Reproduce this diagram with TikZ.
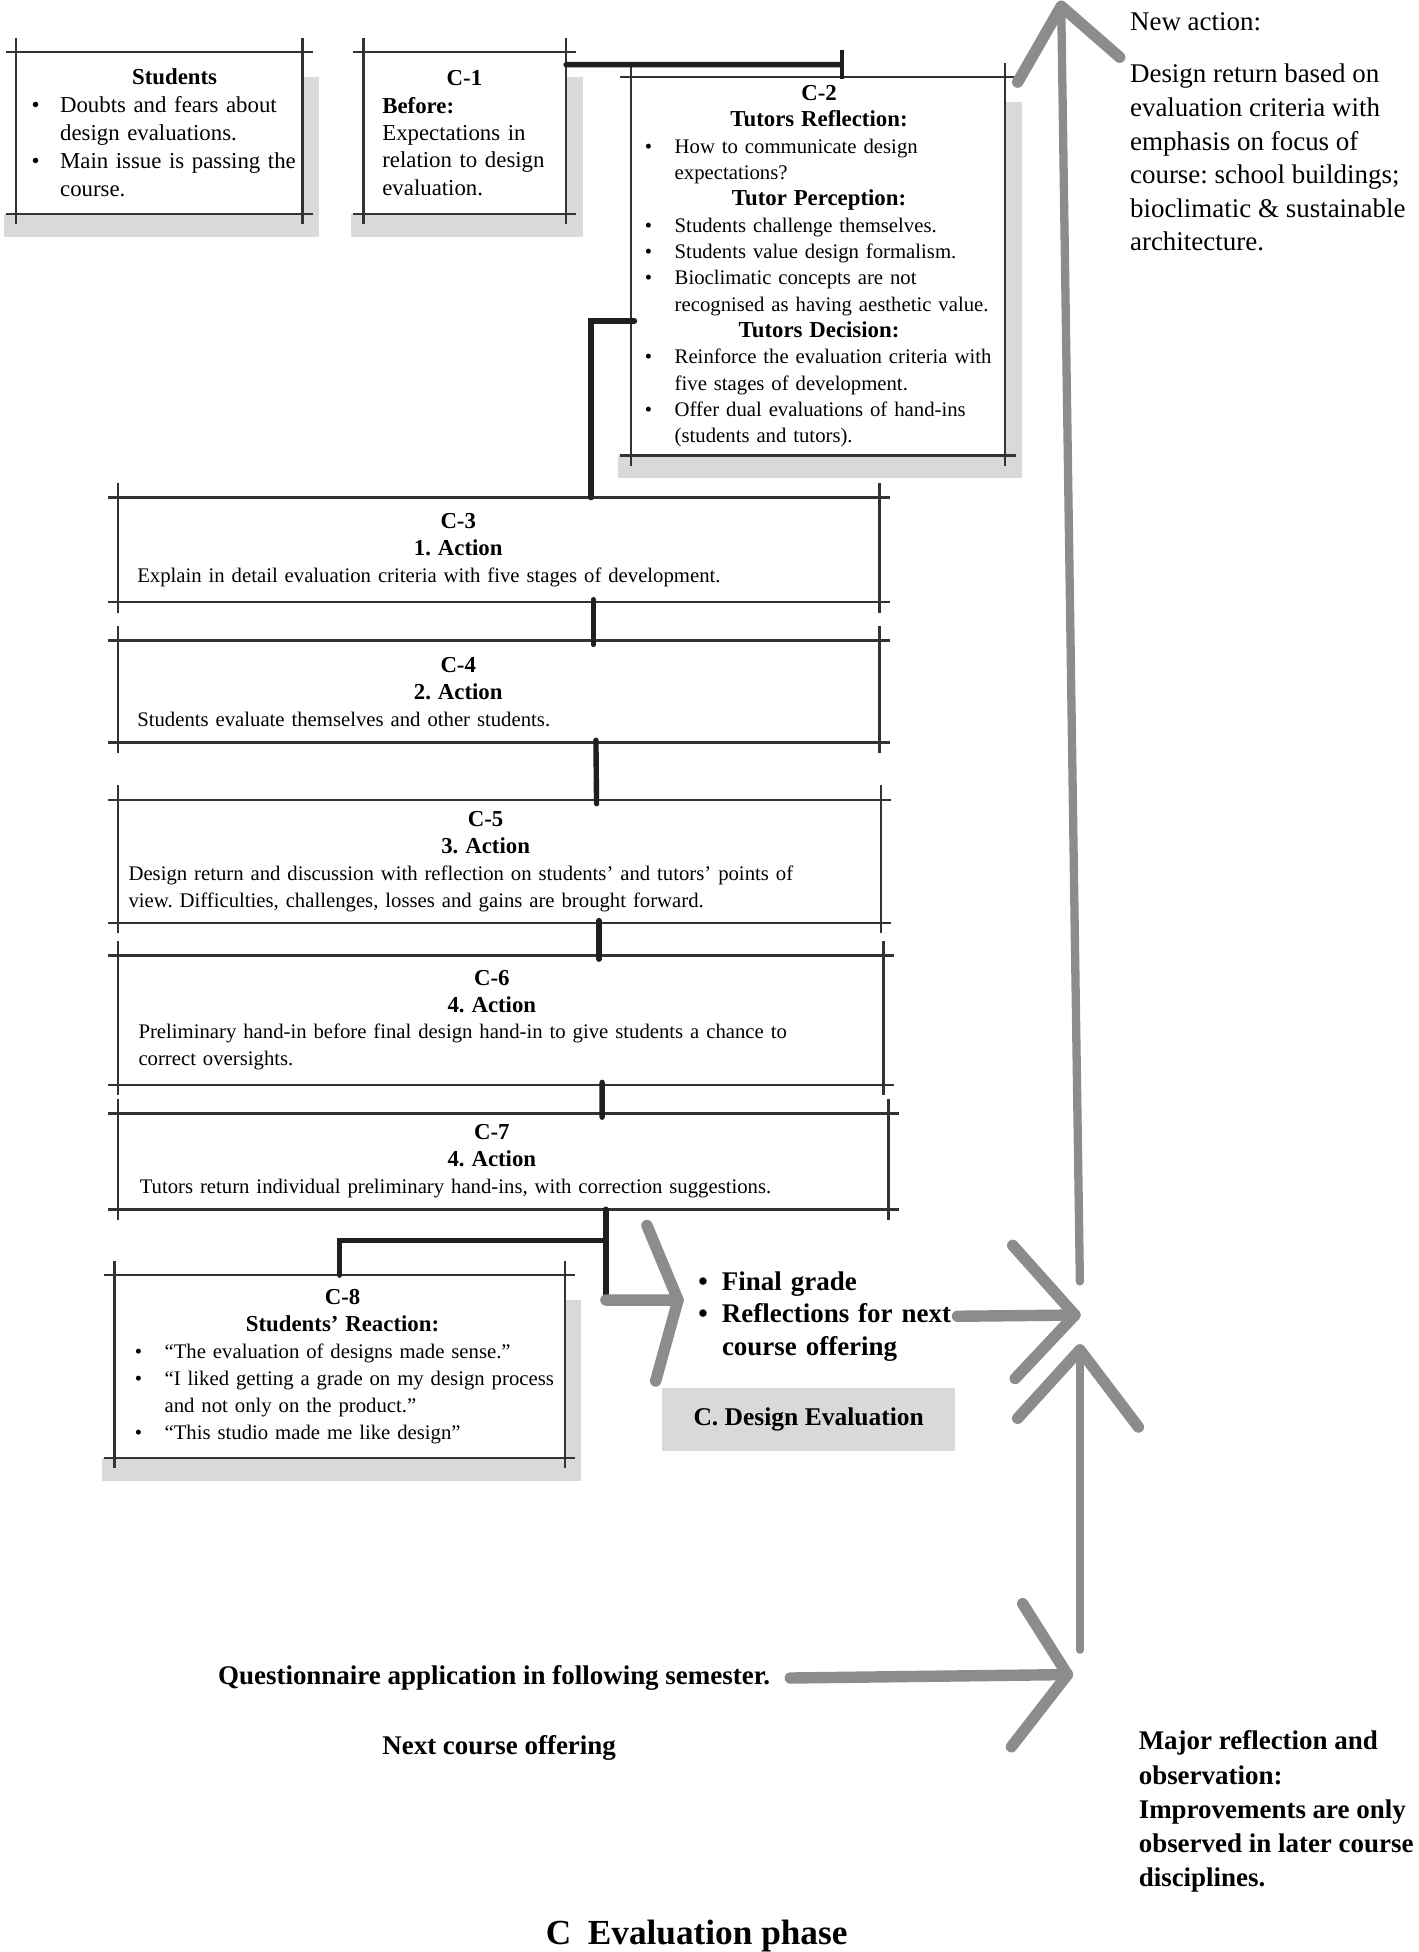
\documentclass[tikz,border=0pt]{standalone}
\usepackage{fontspec}
\setmainfont{Liberation Serif}
\usetikzlibrary{positioning, arrows.meta, calc}
\frenchspacing

\newlength{\bitemind}
\setlength{\bitemind}{14.4pt}
\newcommand{\boxheadfont}{\bfseries\fontsize{11}{13}\selectfont}
\newcommand{\bhead}[1]{\noindent\hbox to\hsize{\hfil\boxheadfont #1\hfil}\par}
\newcommand{\bline}[1]{\noindent\mbox{#1}\par}
\newcommand{\bitem}[1]{\noindent\hbox to\bitemind{\textbullet\hfil}\mbox{#1}\par}
\newcommand{\bmore}[1]{\noindent\hspace*{\bitemind}\mbox{#1}\par}

\tikzset{
  boxframe/.style={inner sep=0pt, outer sep=0pt},
  boxtext/.style={inner sep=0pt, text width=#1, align=left, font=\fontsize{10}{13}\selectfont},
  frameline/.style={draw=black!80, line width=1.2pt},
  shadowfill/.style={fill=black!15},
  flowlink/.style={draw=black!88, line width=2.6pt, line cap=round},
  brushstroke/.style={draw=black!45, line width=5.5pt, line cap=round, line join=round},
  sidenote/.style={inner sep=0pt, align=left, font=\fontsize{13}{16.2}\selectfont}
}

\begin{document}
\begin{tikzpicture}[x=0.6pt, y=-0.6pt]
    \useasboundingbox (0,0) rectangle (1140,1569);
    % Boxes
    \node[boxframe, minimum width=138pt, minimum height=78pt] (stud) at (128,107) {};
    \node[boxframe, minimum width=97.8pt, minimum height=78pt] (c1) at (373.5,107) {};
    \node[boxframe, minimum width=180.6pt, minimum height=182.4pt] (c2) at (657.5,214) {};
    \node[boxframe, minimum width=367.2pt, minimum height=50.4pt] (c3) at (401,442) {};
    \node[boxframe, minimum width=367.2pt, minimum height=49.2pt, below=18.6pt of c3.south west, anchor=north west] (c4) {};
    \node[boxframe, minimum width=367.8pt, minimum height=59.4pt, below=27.6pt of c4.south west, anchor=north west] (c5) {};
    \node[boxframe, minimum width=369pt, minimum height=62.4pt, below=15.6pt of c5.south west, anchor=north west] (c6) {};
    \node[boxframe, minimum width=371.4pt, minimum height=46.2pt, below=13.8pt of c6.south west, anchor=north west] (c7) {};
    \node[boxframe, minimum width=217.2pt, minimum height=88.2pt] (c8) at (273,1098.5) {};
    % Shadows
    \foreach \n in {stud, c1, c2, c8} {
        \fill[shadowfill] ([xshift=-6pt]\n.south west) rectangle ([xshift=8pt, yshift=-11pt]\n.south east);
        \fill[shadowfill] ([yshift=-12pt]\n.north east) rectangle ([xshift=8pt]\n.south east);
    }
    % Sketchy frames
    \foreach \n in {stud, c1, c2, c3, c4, c5, c6, c7, c8} {
        \draw[frameline] ([xshift=-5pt]\n.north west) -- ([xshift=5pt]\n.north east);
        \draw[frameline] ([xshift=-5pt]\n.south west) -- ([xshift=5pt]\n.south east);
        \draw[frameline] ([yshift=7pt]\n.north west) -- ([yshift=-5pt]\n.south west);
        \draw[frameline] ([yshift=7pt]\n.north east) -- ([yshift=-5pt]\n.south east);
    }
    % Box texts
    \node[boxtext=138pt, font=\fontsize{11}{13.5}\selectfont, right=7.2pt of stud.west] (studtext) {%
        \setlength{\bitemind}{13.8pt}%
        \bhead{Students}\bitem{Doubts and fears about}\bmore{design evaluations.}%
        \bitem{Main issue is passing the}\bmore{course.}};
    \node[boxtext=79.2pt, font=\fontsize{11}{13.2}\selectfont, right=9pt of c1.west] (c1text) {%
        \bhead{C-1}\bline{\textbf{Before:}}\bline{Expectations in}\bline{relation to design}\bline{evaluation.}};
    \node[boxtext=168pt, font=\fontsize{10}{12.7}\selectfont, right=6.6pt of c2.west] (c2text) {%
        \bhead{C-2}\bhead{Tutors Reflection:}%
        \bitem{How to communicate design}\bmore{expectations?}%
        \bhead{Tutor Perception:}%
        \bitem{Students challenge themselves.}%
        \bitem{Students value design formalism.}%
        \bitem{Bioclimatic concepts are not}\bmore{recognised as having aesthetic value.}%
        \bhead{Tutors Decision:}%
        \bitem{Reinforce the evaluation criteria with}\bmore{five stages of development.}%
        \bitem{Offer dual evaluations of hand-ins}\bmore{(students and tutors).}};
    \node[boxtext=309.6pt, right=9pt of c3.west] (c3text) {%
        \bhead{C-3}\bhead{1. Action}%
        \bline{Explain in detail evaluation criteria with five stages of development.}};
    \node[boxtext=309.6pt, right=9pt of c4.west] (c4text) {%
        \bhead{C-4}\bhead{2. Action}%
        \bline{Students evaluate themselves and other students.}};
    \node[boxtext=344.4pt, right=4.8pt of c5.west] (c5text) {%
        \bhead{C-5}\bhead{3. Action}%
        \bline{Design return and discussion with reflection on students’ and tutors’ points of}%
        \bline{view. Difficulties, challenges, losses and gains are brought forward.}};
    \node[boxtext=340.8pt, right=9.6pt of c6.west] (c6text) {%
        \bhead{C-6}\bhead{4. Action}%
        \bline{Preliminary hand-in before final design hand-in to give students a chance to}%
        \bline{correct oversights.}};
    \node[boxtext=339.6pt, right=10.2pt of c7.west] (c7text) {%
        \bhead{C-7}\bhead{4. Action}%
        \bline{Tutors return individual preliminary hand-ins, with correction suggestions.}};
    \node[boxtext=200.4pt, right=9.6pt of c8.west] (c8text) {%
        \bhead{C-8}\bhead{Students’ Reaction:}%
        \bitem{“The evaluation of designs made sense.”}%
        \bitem{“I liked getting a grade on my design process}\bmore{and not only on the product.”}%
        \bitem{“This studio made me like design”}};
    % Connectors
    \draw[flowlink, -{Bar[width=14pt, line width=2.2pt]}] ($(c1.north east)+(0,10)$) -- ($(c2.north)+(21,-10)$);
    \draw[flowlink] ($(c2.west)+(3,44)$) -| ($(c3.north)+(74,0)$);
    \draw[flowlink] ($(c3.south)+(76,-2)$) -- ($(c4.north)+(76,3)$);
    \draw[flowlink] ($(c4.south)+(78,-2)$) -- ($(c5.north)+(78,3)$);
    \draw[flowlink] ($(c5.south)+(80,-2)$) -- ($(c6.north)+(79,3)$);
    \draw[flowlink] ($(c6.south)+(81.5,-2)$) -- ($(c7.north)+(79.5,3)$);
    \draw[flowlink] ($(c7.south)+(82.5,0)$) coordinate (split) -- ++(0,73) coordinate (gradein);
    \draw[flowlink] ($(split)+(0,25)$) -| (c8.north);
    % Outcome and side notes
    \node[boxtext=120pt, font=\bfseries\fontsize{13}{15.6}\selectfont, anchor=west] (outcome) at (561,1058) {%
        \setlength{\bitemind}{11.4pt}%
        \bitem{Final grade}\bitem{Reflections for next}\bmore{course offering}};
    \node[fill=black!15, minimum width=141.6pt, minimum height=30pt, font=\bfseries\fontsize{12.3}{14}\selectfont] (evaltag) at (650,1141) {C. Design Evaluation};
    \node[sidenote, anchor=north west] (newaction) at (908,10) {New action:\\[9pt]Design return based on\\evaluation criteria with\\emphasis on focus of\\course: school buildings;\\bioclimatic \& sustainable\\architecture.};
    \node[sidenote, font=\bfseries\fontsize{13}{16.5}\selectfont, anchor=north west] (major) at (915,1391) {Major reflection and\\observation:\\Improvements are only\\observed in later course\\disciplines.};
    \node[anchor=base west, inner sep=0pt, font=\bfseries\fontsize{13}{16}\selectfont] (quest) at (175,1354) {Questionnaire application in following semester.};
    \node[anchor=base west, inner sep=0pt, font=\bfseries\fontsize{13}{16}\selectfont] (nextoffer) at (307,1410) {Next course offering};
    \node[anchor=base, inner sep=0pt, font=\bfseries\fontsize{17}{20}\selectfont] (caption) at (560,1563) {C\hspace{8pt}Evaluation phase};
    % Brush arrows
    \coordinate (gradetip) at ($(outcome.west)+(-16,-13)$);
    \coordinate (meet) at (864,1057);
    \coordinate (risetop) at ($(newaction.north west)+(-55,-5)$);
    \coordinate (lifttop) at ($(meet)+(4,28)$);
    \coordinate (questtip) at (858,1346);
    \draw[brushstroke] (gradein) -- (gradetip);
    \draw[brushstroke] ($(gradetip)+(-25,-60)$) -- (gradetip) -- ($(gradetip)+(-18,65)$);
    \draw[brushstroke] ($(outcome.east)+(8,0)$) -- (meet);
    \draw[brushstroke] ($(meet)+(-50,-56)$) -- (meet) -- ($(meet)+(-48,51)$);
    \draw[brushstroke, line width=4pt] ($(meet)+(4,-27)$) -- (risetop);
    \draw[brushstroke] ($(risetop)+(-35,61)$) -- (risetop) -- ($(risetop)+(47,41)$);
    \draw[brushstroke] ($(quest.east)+(16,0)$) -- (questtip);
    \draw[brushstroke] ($(questtip)+(-36,-57)$) -- (questtip) -- ($(questtip)+(-45,58)$);
    \draw[brushstroke, line width=4pt] ($(questtip)+(10,-20)$) -- (lifttop);
    \draw[brushstroke] ($(lifttop)+(-50,55)$) -- (lifttop) -- ($(lifttop)+(47,62)$);
\end{tikzpicture}
\end{document}
